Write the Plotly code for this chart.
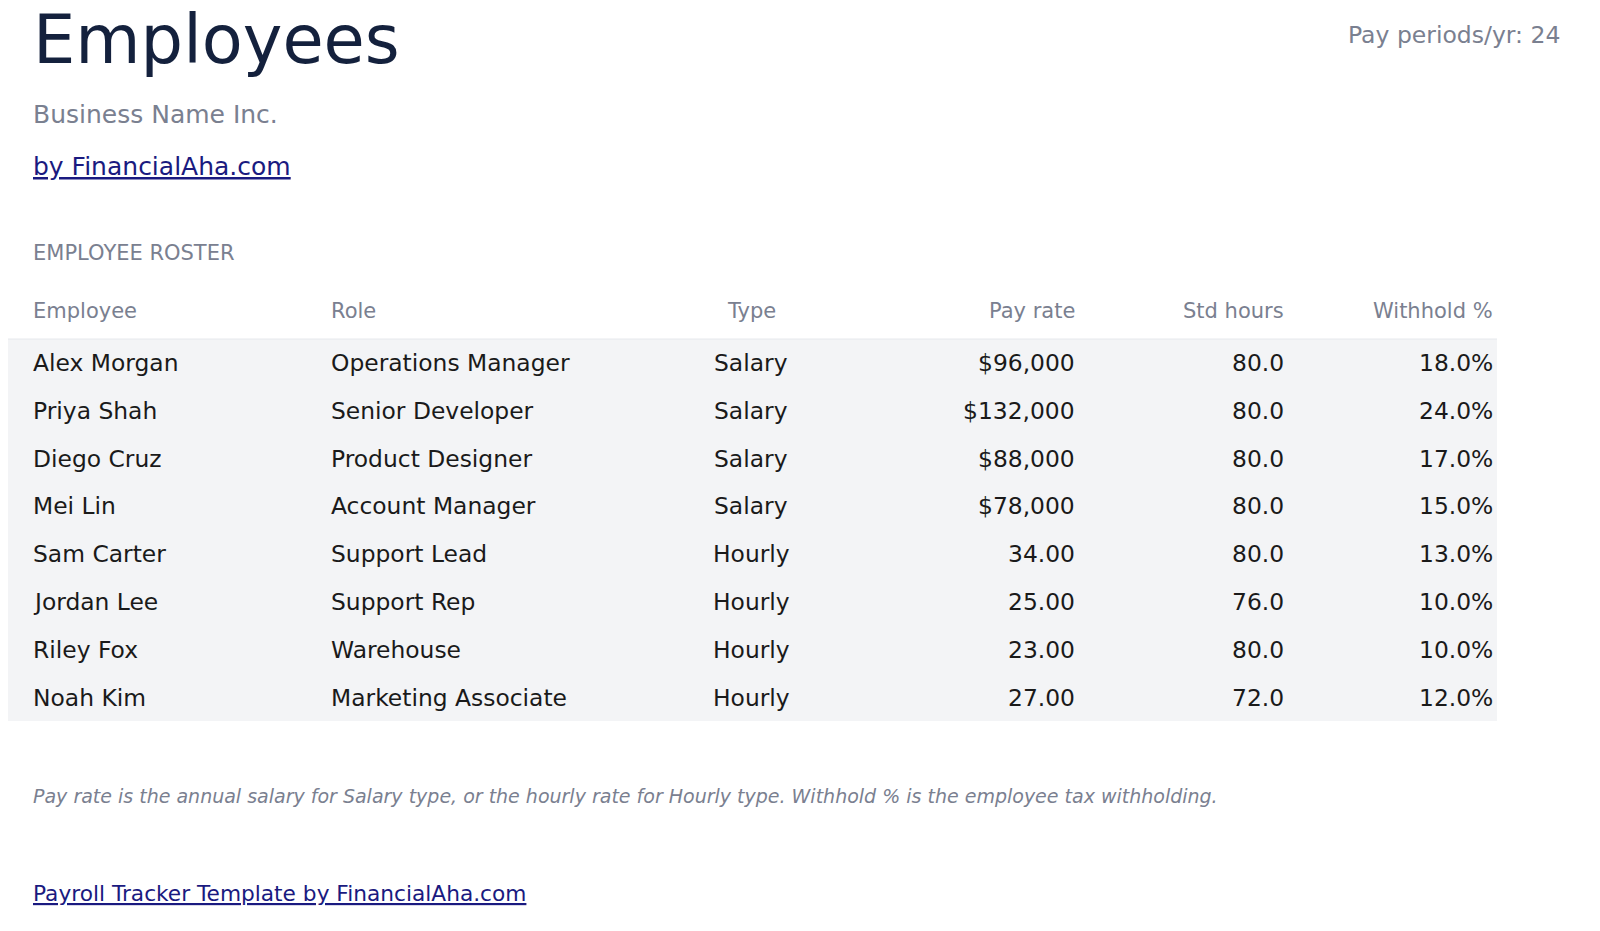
import plotly.graph_objects as go

employees = ["Alex Morgan","Priya Shah","Diego Cruz","Mei Lin","Sam Carter","Jordan Lee","Riley Fox","Noah Kim"]
roles = ["Operations Manager","Senior Developer","Product Designer","Account Manager","Support Lead","Support Rep","Warehouse","Marketing Associate"]
types = ["Salary","Salary","Salary","Salary","Hourly","Hourly","Hourly","Hourly"]
pay_rates = [96000,132000,88000,78000,34.00,25.00,23.00,27.00]
std_hours = [80.0,80.0,80.0,80.0,80.0,76.0,80.0,72.0]
withhold = [18.0,24.0,17.0,15.0,13.0,10.0,10.0,12.0]
headers = ["Employee","Role","Type","Pay rate","Std hours","Withhold %"]

W, H = 1584, 915
OFF = 8
FONT = "DejaVu Sans"
def px(x): return max(0, x - OFF) / W
def py(y): return 1 - max(0, y - OFF) / H

col_x = [31, 329, 751, 1077, 1286, 1495]
col_anchor = ["left","left","center","right","right","right"]

def fmt_pay(t, v):
    return f"${v:,.0f}" if t == "Salary" else f"{v:.2f}"

fig = go.Figure()
ann = []
def add(x, y, text, size, color, anchor="left", yanchor="middle"):
    ann.append(dict(x=px(x), y=py(y), xref="paper", yref="paper", text=text, showarrow=False,
                    xanchor=anchor, yanchor=yanchor, font=dict(family=FONT, size=size, color=color)))

add(31, 40, "Employees", 67, "#14213d")
add(1562, 35, "Pay periods/yr: 24", 23.5, "#7a8090", "right")
add(31, 115, "Business Name Inc.", 25, "#7a8090")
add(31, 166, "<u>by FinancialAha.com</u>", 25, "#1a1a80")
add(31, 253, "EMPLOYEE ROSTER", 21, "#7a8090")
for h, x, a in zip(headers, col_x, col_anchor):
    add(x, 311, h, 21, "#7a8090", a)

for i in range(len(employees)):
    y = 363 + i * 47.8
    vals = [employees[i], roles[i], types[i], fmt_pay(types[i], pay_rates[i]),
            f"{std_hours[i]:.1f}", f"{withhold[i]:.1f}%"]
    for v, x, a in zip(vals, col_x, col_anchor):
        add(x, y, v, 23.4, "#1a1a1a", a)

add(31, 796, "<i>Pay rate is the annual salary for Salary type, or the hourly rate for Hourly type. Withhold % is the employee tax withholding.</i>", 19, "#7a8090")
add(31, 893, "<u>Payroll Tracker Template by FinancialAha.com</u>", 21.7, "#1a1a80")

shapes = [
    dict(type="rect", xref="paper", yref="paper", x0=px(7), x1=px(1497), y0=py(721), y1=py(339),
         fillcolor="#f3f4f6", line=dict(width=0), layer="below"),
    dict(type="line", xref="paper", yref="paper", x0=px(7), x1=px(1497), y0=py(339), y1=py(339),
         line=dict(color="#e6e8ec", width=1)),
]

fig.update_layout(width=W, height=H, margin=dict(l=0, r=0, t=0, b=0),
                  paper_bgcolor="white", plot_bgcolor="white",
                  xaxis=dict(visible=False), yaxis=dict(visible=False),
                  annotations=ann, shapes=shapes, showlegend=False)
fig.write_html("out.html")
